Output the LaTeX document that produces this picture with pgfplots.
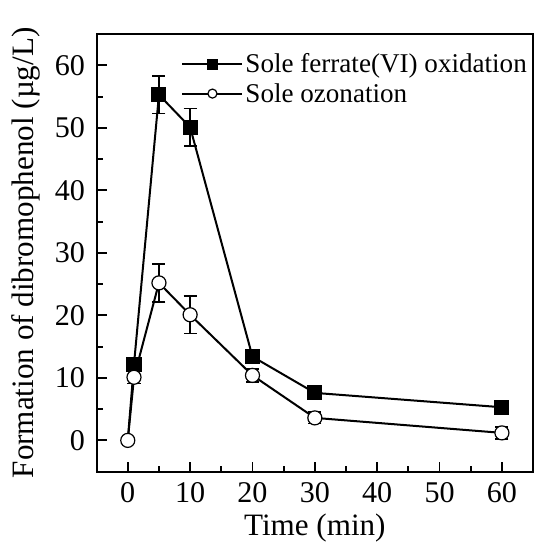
\documentclass[border=0pt]{standalone}
\usepackage{pgfplots}
\pgfplotsset{compat=1.18}
\usepackage{fontspec}
\setmainfont{Liberation Serif}
\begin{document}
\begin{tikzpicture}
\begin{axis}[
  width=435pt,height=436pt,scale only axis,
  xmin=-5,xmax=65,ymin=-5,ymax=65,
  xtick={0,10,...,60},ytick={0,10,...,60},
  minor x tick num=1,minor y tick num=1,
  xtick pos=left,ytick pos=left,tick align=inside,
  major tick length=10pt,minor tick length=6pt,
  axis line style={line width=2pt},
  every tick/.style={line width=1.8pt,black},
  tick label style={font=\fontsize{30}{34}\selectfont},
  xticklabel style={yshift=-7pt},
  yticklabel style={xshift=-8pt},
  /pgf/number format/assume math mode=true,
  label style={font=\fontsize{31}{35}\selectfont},
  xlabel={Time (min)},
  ylabel={Formation of dibromophenol (µg/L)},
  xlabel style={yshift=-4pt},
  ylabel style={yshift=8pt},
  legend style={draw=none,fill=none,at={(0.194,0.96)},anchor=north west,
    font=\fontsize{27}{31}\selectfont,row sep=5pt,inner sep=0pt},
  legend cell align=left,
  legend image code/.code={
    \draw[#1,line width=2pt] (0cm,0cm) -- (2.1cm,0cm);
    \draw[#1,only marks,mark size=4.5pt,mark indices={1}] plot coordinates {(1.05cm,0cm)};},
]
\addplot+[black,line width=2pt,mark=square*,mark size=6.5pt,
  mark indices={2,3,4,5,6,7},
  mark options={fill=black,solid},
  error bars/.cd,y dir=both,y explicit,
  error bar style={line width=1.8pt,black},
  error mark options={rotate=90,mark size=6.5pt,line width=1.8pt,black}]
coordinates {
(0,0) +- (0,0)
(1,12.2) +- (0,0.8)
(5,55.3) +- (0,3.0)
(10,50.1) +- (0,3.0)
(20,13.4) +- (0,0.8)
(30,7.6) +- (0,0.5)
(60,5.3) +- (0,0.5)
};
\addlegendentry{Sole ferrate(VI) oxidation}
\addplot+[black,line width=2pt,mark=*,mark size=7pt,
  mark options={fill=white,draw=black,line width=1.2pt,solid},
  error bars/.cd,y dir=both,y explicit,
  error bar style={line width=1.8pt,black},
  error mark options={rotate=90,mark size=6.5pt,line width=1.8pt,black}]
coordinates {
(0,0) +- (0,0)
(1,10.1) +- (0,1.0)
(5,25.2) +- (0,3.0)
(10,20.1) +- (0,3.0)
(20,10.4) +- (0,1.0)
(30,3.6) +- (0,0.9)
(60,1.2) +- (0,1.0)
};
\addlegendentry{Sole ozonation}
\end{axis}
\path ([yshift=34pt]current axis.north) ([xshift=3pt]current axis.east)
  ([xshift=-8pt]current bounding box.west) ([yshift=-5pt]current bounding box.south);
\end{tikzpicture}
\end{document}
